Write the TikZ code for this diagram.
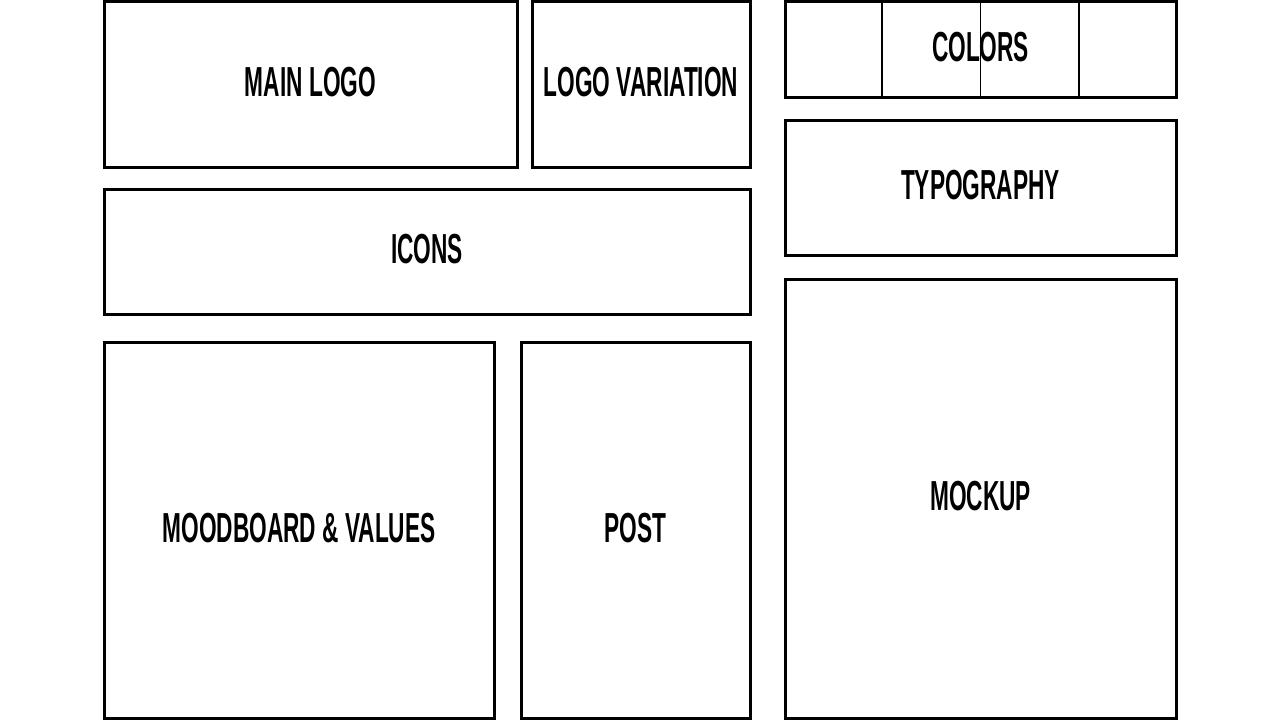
\documentclass[tikz,border=0pt]{standalone}
\usepackage{fontspec}
\usepackage{graphicx}
\setmainfont{Liberation Sans}
\usetikzlibrary{calc}
\newcommand{\lbl}[1]{\raisebox{-12pt}[0pt][0pt]{\scalebox{0.54}[1]{\bfseries #1}}}
\tikzstyle{panel} = [draw, line width=3pt, inner sep=0pt, font=\fontsize{42}{42}\selectfont]
\tikzstyle{l} = [line width=1.2pt]

\begin{document}
\begin{tikzpicture}[x=1pt, y=-1pt]
                \useasboundingbox (0,0) rectangle (1280,720);
                \foreach \n/\x/\y/\w/\h/\t in {mainlogo/104/1.5/413/165.5/MAIN LOGO, logovar/532/1.5/218/165.5/LOGO VARIATION, icons/104/189/646/125/ICONS, mood/104/342/390/376/MOODBOARD \& VALUES, post/521/342/229/376/POST, colors/785/1.5/391/95.5/COLORS, typo/785/120/391/135/TYPOGRAPHY, mockup/785/279/391/439/MOCKUP} {
                    \node[panel, minimum width=\w*1pt, minimum height=\h*1pt] (\n) at (\x+\w/2,\y+\h/2) {\lbl{\t}};
                }
                \foreach \i in {1,2,3}
                \draw[l] ($(colors.north west)!\i/4!(colors.north east)$) -- ($(colors.south west)!\i/4!(colors.south east)$);
            \end{tikzpicture}
\end{document}
